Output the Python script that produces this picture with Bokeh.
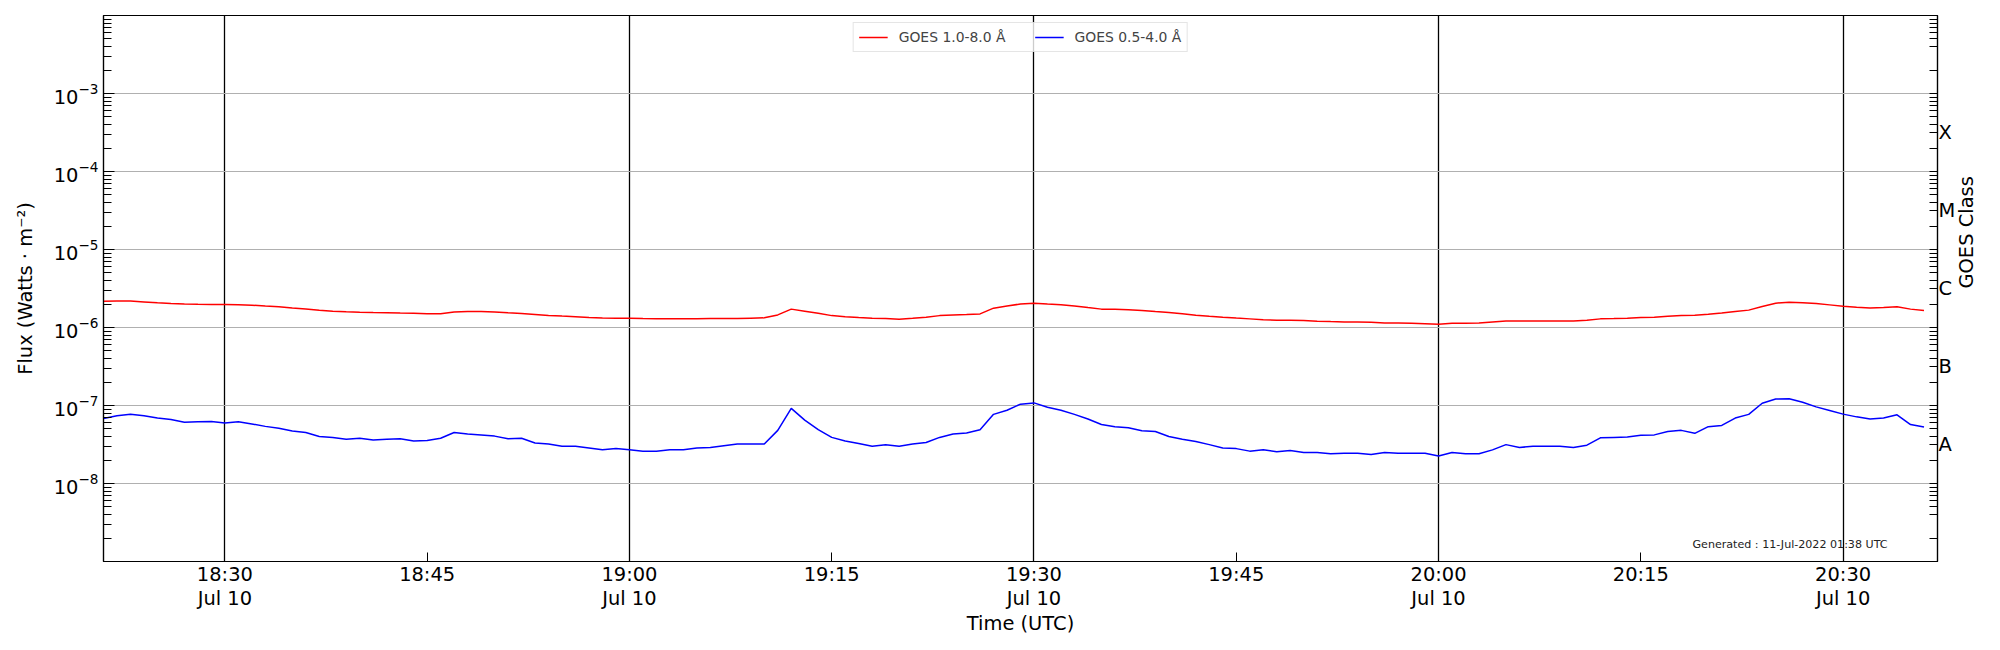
import math
import numpy as np
import pandas as pd
from bokeh.plotting import figure
from bokeh.models import (LogAxis, DatetimeAxis, FixedTicker, Range1d, Label, Legend, LegendItem)
from bokeh.embed import file_html
from bokeh.resources import INLINE

# ---------------- data ----------------
start_time = "2022-07-10 18:21"
end_time = "2022-07-10 20:37"

# GOES 1.0-8.0 A (W m^-2), 1-minute samples from 18:21
xrsb_e6 = [2.17, 2.18, 2.19, 2.13, 2.07, 2.03, 2.00, 1.98, 1.97, 1.97, 1.96, 1.93, 1.88, 1.84,
           1.78, 1.73, 1.66, 1.62, 1.59, 1.57, 1.555, 1.55, 1.53,
           1.52, 1.50, 1.50, 1.585, 1.60, 1.60, 1.58, 1.54, 1.51, 1.47, 1.43, 1.40, 1.375, 1.34,
           1.32, 1.315, 1.315, 1.30, 1.29, 1.29, 1.29, 1.295, 1.30,
           1.30, 1.30, 1.315, 1.33, 1.45, 1.72, 1.62, 1.52, 1.42, 1.375, 1.34, 1.315, 1.30, 1.28,
           1.315, 1.355, 1.42, 1.45, 1.466, 1.495, 1.77, 1.89, 2.00,
           2.05, 2.00, 1.96, 1.89, 1.80, 1.72, 1.71, 1.69, 1.65, 1.60, 1.555, 1.50, 1.44, 1.395,
           1.355, 1.32, 1.29, 1.26, 1.24, 1.235, 1.23, 1.205,
           1.19, 1.18, 1.175, 1.165, 1.145, 1.14, 1.13, 1.12, 1.10, 1.13, 1.135, 1.145, 1.18,
           1.215, 1.215, 1.215, 1.215, 1.215, 1.215, 1.24, 1.29, 1.30, 1.315,
           1.34, 1.355, 1.39, 1.42, 1.44, 1.48, 1.53, 1.60, 1.67, 1.86, 2.05, 2.11, 2.08, 2.03,
           1.95, 1.87, 1.82, 1.78, 1.80, 1.84, 1.72, 1.65]

# GOES 0.5-4.0 A (W m^-2), 1-minute samples from 18:21
xrsa_e8 = [6.8, 7.4, 7.7, 7.4, 6.9, 6.6, 6.1, 6.2, 6.25, 5.95, 6.2, 5.8, 5.4, 5.1, 4.7, 4.5,
           4.0, 3.9, 3.7, 3.8, 3.6, 3.7, 3.75, 3.5, 3.55, 3.8, 4.5, 4.3, 4.2, 4.05, 3.75, 3.8,
           3.3, 3.2, 3.0, 3.0, 2.85, 2.7, 2.8, 2.7, 2.6, 2.6, 2.7, 2.7, 2.85, 2.9,
           3.05, 3.2, 3.2, 3.2, 4.8, 9.2, 6.5, 4.9, 3.9, 3.5, 3.25, 3.0, 3.15, 3.0, 3.2, 3.35,
           3.9, 4.3, 4.45, 4.9, 7.7, 8.7, 10.4, 10.8, 9.5, 8.7, 7.7, 6.7, 5.7, 5.35, 5.2, 4.75,
           4.65, 4.0, 3.7, 3.45, 3.15, 2.85, 2.8, 2.6, 2.7, 2.55, 2.65, 2.5, 2.5,
           2.4, 2.45, 2.45, 2.35, 2.5, 2.45, 2.45, 2.45, 2.25, 2.5, 2.4, 2.4, 2.7, 3.15, 2.9,
           3.0, 3.0, 3.0, 2.9, 3.1, 3.85, 3.9, 3.95, 4.15, 4.2, 4.65, 4.8, 4.4, 5.35, 5.55,
           6.9, 7.7, 10.7, 12.1, 12.2, 11.0, 9.6, 8.65, 7.75, 7.15, 6.7, 6.9, 7.6, 5.7, 5.3]

label_b = "GOES 1.0-8.0 \u00c5"
label_a = "GOES 0.5-4.0 \u00c5"

tick_times = ["18:30", "18:45", "19:00", "19:15", "19:30", "19:45", "20:00", "20:15", "20:30"]
half_hour_times = ["18:30", "19:00", "19:30", "20:00", "20:30"]
date_text = "Jul 10"
day = "2022-07-10"

decade_exps = [-8, -7, -6, -5, -4, -3]
class_labels = ["A", "B", "C", "M", "X"]
class_exps = [-7.5, -6.5, -5.5, -4.5, -3.5]
right_label = "GOES Class"

generated_text = "Generated : 11-Jul-2022 01:38 UTC"

# ---------------- build ----------------
xrsb = np.array(xrsb_e6) * 1e-6
xrsa = np.array(xrsa_e8) * 1e-8
times = pd.date_range(start_time, periods=len(xrsb), freq="min")


def ms(t):
    return float(pd.Timestamp(f"{day} {t}").value // 10**6)


FONT = "DejaVu Sans"
FS = "19.44px"

W, H = 1992, 642
BL, BR, BT, BB = 103, 55, 15, 81

p = figure(width=W, height=H, x_axis_type="datetime", y_axis_type="log",
           x_range=Range1d(pd.Timestamp(start_time), pd.Timestamp(end_time)),
           y_range=Range1d(1e-9, 1e-2),
           output_backend="svg", toolbar_location=None,
           min_border_left=BL, min_border_right=BR, min_border_top=BT, min_border_bottom=BB)
p.background_fill_color = "white"
p.border_fill_color = "white"
p.outline_line_color = "black"
p.outline_line_width = 1.2

# grids
p.xgrid.ticker = FixedTicker(ticks=[ms(t) for t in half_hour_times])
p.xgrid.grid_line_color = "black"
p.xgrid.grid_line_width = 1.3
p.ygrid.ticker = FixedTicker(ticks=[10.0 ** e for e in decade_exps])
p.ygrid.grid_line_color = "#b0b0b0"
p.ygrid.grid_line_width = 1.0

r_b = p.line(times, xrsb, line_color="#ff0000", line_width=1.5)
r_a = p.line(times, xrsa, line_color="#0000ff", line_width=1.5)

# minors
minor_vals = []
for e in range(-9, -2):
    for m in range(2, 10):
        minor_vals.append(m * 10.0 ** e)

# x axis (time line)
xa = p.xaxis[0]
xa.ticker = FixedTicker(ticks=[ms(t) for t in tick_times], minor_ticks=[])
xa.major_label_overrides = {ms(t): t for t in tick_times}

# x axis (date line)
xa2 = DatetimeAxis(ticker=FixedTicker(ticks=[ms(t) for t in half_hour_times], minor_ticks=[]),
                   axis_label="Time (UTC)")
xa2.major_label_overrides = {ms(t): date_text for t in half_hour_times}
p.add_layout(xa2, "below")

# left y axis (native log formatter -> 10 with superscript exponent)
ya = p.yaxis[0]
ya.ticker = FixedTicker(ticks=[10.0 ** e for e in decade_exps], minor_ticks=minor_vals)
ya.axis_label = "Flux (Watts \u00b7 m\u207b\u00b2)"

# right axis
ra = LogAxis(axis_label=right_label)
ra.ticker = FixedTicker(ticks=[10.0 ** e for e in class_exps],
                        minor_ticks=[10.0 ** e for e in range(-9, -1)] +
                        [v for v in minor_vals if not np.isclose(v / 10.0 ** np.floor(np.log10(v) + 1e-9), 3)])
ra.major_label_overrides = {10.0 ** e: l for e, l in zip(class_exps, class_labels)}
if hasattr(ra, "axis_label_orientation"):
    ra.axis_label_orientation = math.pi / 2
p.add_layout(ra, "right")

for ax in (xa, xa2, ya, ra):
    ax.axis_line_color = "black"
    ax.axis_line_width = 1.2
    ax.major_tick_out = 0
    ax.minor_tick_out = 0
    ax.major_tick_line_color = "black"
    ax.minor_tick_line_color = "black"
    ax.major_label_text_font = FONT
    ax.major_label_text_font_size = FS
    ax.major_label_text_color = "black"
    ax.axis_label_text_font = FONT
    ax.axis_label_text_font_size = FS
    ax.axis_label_text_font_style = "normal"
    ax.axis_label_text_color = "black"

xa.major_tick_in = 9
xa.major_label_standoff = 1
xa2.axis_line_color = None
xa2.major_tick_line_color = None
xa2.minor_tick_line_color = None
xa2.major_tick_in = 0
xa2.major_label_standoff = -2
xa2.axis_label_standoff = -1
ya.major_tick_in = 11
ya.minor_tick_in = 8
ya.major_label_standoff = 5
ya.axis_label_standoff = 14
ra.major_tick_in = 8
ra.minor_tick_in = 8
ra.major_label_standoff = 1
ra.axis_label_standoff = 8
ra.major_label_text_font_size = FS

legend = Legend(items=[LegendItem(label=label_b, renderers=[r_b]),
                       LegendItem(label=label_a, renderers=[r_a])],
                orientation="horizontal", location="top_center",
                label_text_font=FONT, label_text_font_size="13.9px",
                glyph_width=29, glyph_height=16, label_standoff=11, spacing=29,
                padding=5, margin=7, label_height=18,
                border_line_color="#cccccc", border_line_width=1,
                background_fill_color="white", background_fill_alpha=0.8)
p.add_layout(legend)

p.add_layout(Label(x=1784, y=17, x_units="screen", y_units="screen",
                   text=generated_text, text_align="right", text_baseline="middle",
                   text_font=FONT, text_font_size="11.1px", text_color="#222222"))

open("out.html", "w").write(file_html(p, INLINE))
